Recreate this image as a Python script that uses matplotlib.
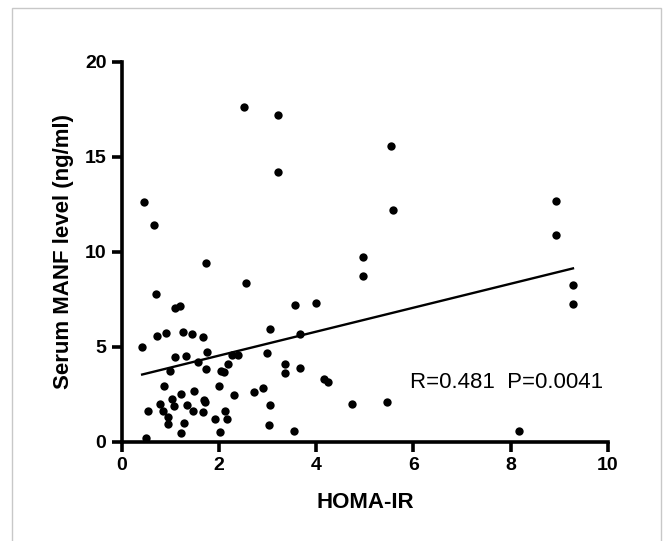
import numpy as np
import matplotlib
matplotlib.use("Agg")
import matplotlib.pyplot as plt
from matplotlib.patches import Rectangle

# HOMA-IR vs serum MANF
homa_ir = [0.45, 0.67, 0.70, 0.42, 0.73, 0.91, 0.54, 0.50, 0.79, 0.86,
           0.84, 0.96, 0.96, 0.99, 1.03, 1.08, 1.10, 1.10, 1.19, 1.25,
           1.22, 1.21, 1.29, 1.32, 1.34, 1.44, 1.47, 1.49, 1.57, 1.67,
           1.67, 1.69, 1.71, 1.74, 1.73, 1.76, 1.91, 2.01, 2.02, 2.05,
           2.10, 2.12, 2.17, 2.19, 2.27, 2.30, 2.40, 2.52, 2.55, 2.72,
           2.91, 2.98, 3.03, 3.05, 3.05, 3.21, 3.22, 3.36, 3.36, 3.55,
           3.57, 3.66, 3.67, 4.00, 4.15, 4.24, 4.73, 4.96, 4.96, 5.46,
           5.53, 5.57, 8.17, 8.94, 8.94, 9.28, 9.28]
manf = [12.6, 11.4, 7.75, 5.0, 5.58, 5.7, 1.62, 0.22, 1.99, 2.92,
        1.62, 1.31, 0.91, 3.72, 2.26, 1.90, 4.47, 7.02, 7.13, 5.80,
        2.50, 0.46, 0.97, 4.50, 1.91, 5.69, 1.64, 2.66, 4.19, 5.51,
        1.59, 2.19, 2.08, 9.39, 3.81, 4.72, 1.22, 2.92, 0.49, 3.74,
        3.65, 1.64, 1.20, 4.10, 4.59, 2.46, 4.56, 17.6, 8.33, 2.64,
        2.83, 4.65, 0.86, 5.94, 1.95, 17.2, 14.22, 4.08, 3.63, 0.57,
        7.22, 5.69, 3.90, 7.29, 3.28, 3.12, 1.99, 9.74, 8.73, 2.08,
        15.59, 12.22, 0.57, 12.67, 10.87, 8.24, 7.24]
stats_text = "R=0.481  P=0.0041"

x = np.array(homa_ir)
y = np.array(manf)
slope, intercept = np.polyfit(x, y, 1)

plt.rcParams['font.family'] = ['Liberation Sans', 'DejaVu Sans']

fig = plt.figure(figsize=(6.67, 5.41), dpi=100)
# light grey frame around the picture
fig.patches.append(Rectangle((12 / 667, -0.02), 649 / 667, 1.02 - 8 / 541,
                             transform=fig.transFigure, fill=False,
                             edgecolor="#c8c8c8", linewidth=1))
ax = fig.add_axes([0.1825, 0.1835, 0.729, 0.7024])

ax.scatter(x, y, s=36, color="black", linewidths=0, zorder=3, clip_on=False)
xf = np.array([x.min(), x.max()])
ax.plot(xf, slope * xf + intercept, color="black", lw=1.7)

ax.set_xlim(0, 10)
ax.set_ylim(0, 20)
ax.set_xticks([0, 2, 4, 6, 8, 10])
ax.set_yticks([0, 5, 10, 15, 20])

for side in ["top", "right"]:
    ax.spines[side].set_visible(False)
for side in ["left", "bottom"]:
    ax.spines[side].set_linewidth(2.6)
ax.tick_params(width=2.6, length=7, labelsize=14, pad=4)
for lab in ax.get_xticklabels() + ax.get_yticklabels():
    lab.set_fontweight("bold")

ax.set_xlabel("HOMA-IR", fontsize=16, fontweight="bold", labelpad=13)
ax.set_ylabel("Serum MANF level (ng/ml)", fontsize=16, fontweight="bold", labelpad=8)

ax.text(5.93, 2.83, stats_text, fontsize=16, ha="left", va="baseline")

fig.savefig("out.png", dpi=100)
